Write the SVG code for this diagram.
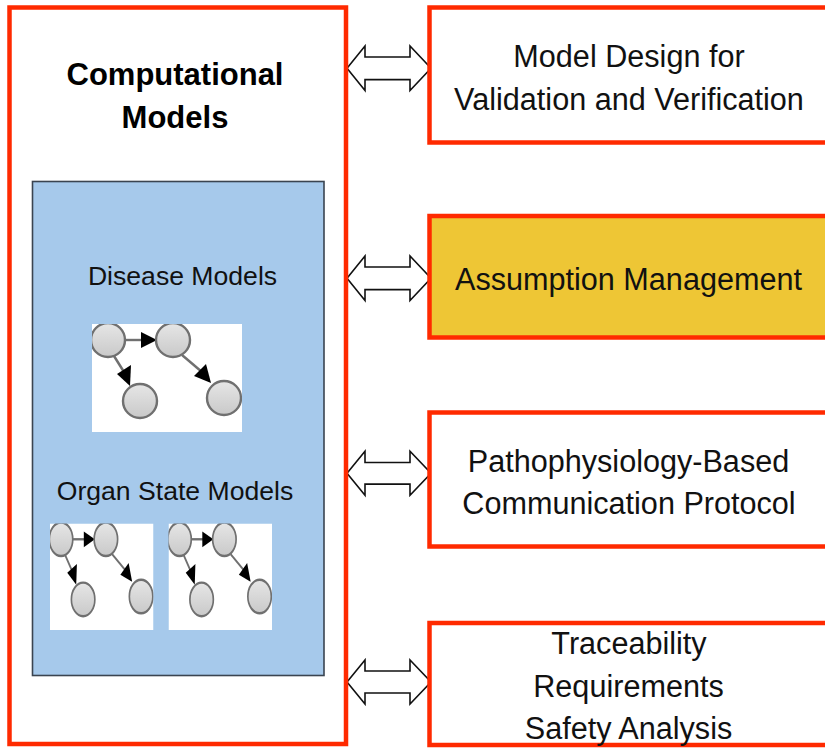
<svg xmlns="http://www.w3.org/2000/svg" xmlns:xlink="http://www.w3.org/1999/xlink" width="825" height="748" viewBox="0 0 825 748">
  <style>
    .frame { fill: #ffffff; stroke: #ff2a00; stroke-width: 4.5; }
    .frame-hl { fill: #eec635; stroke: #ff2a00; stroke-width: 4.5; }
    .panel { fill: #a6c9eb; stroke: #3a4450; stroke-width: 1.6; }
    .label { font-family: "Liberation Sans", Arial, sans-serif; font-size: 30.6px; fill: #111; text-anchor: middle; }
    .title { font-family: "Liberation Sans", Arial, sans-serif; font-size: 31px; font-weight: bold; fill: #000; text-anchor: middle; }
    .sub { font-family: "Liberation Sans", Arial, sans-serif; font-size: 26.6px; fill: #111; text-anchor: middle; }
    .link { fill: #ffffff; stroke: #111; stroke-width: 1.6; stroke-linejoin: miter; }
    .bn-node { fill: url(#nodeFill); stroke: #6f6f6f; stroke-width: 2.4; }
    .bn-edge { stroke: #6f6f6f; stroke-width: 2.4; fill: none; }
  </style>
  <defs>
    <linearGradient id="nodeFill" x1="0" y1="0" x2="0" y2="1">
      <stop offset="0" stop-color="#e6e6e6"/>
      <stop offset="1" stop-color="#c9c9c9"/>
    </linearGradient>
    <filter id="soft" x="-5%" y="-5%" width="110%" height="110%">
      <feGaussianBlur stdDeviation="0.6"/>
    </filter>
    <clipPath id="thumbClip">
      <rect x="0" y="0" width="150" height="108"/>
    </clipPath>
    <!-- small network thumbnail: four nodes, three directed edges -->
    <symbol id="net" viewBox="0 0 150 108" preserveAspectRatio="none">
      <g clip-path="url(#thumbClip)" filter="url(#soft)">
        <rect x="0" y="0" width="150" height="108" fill="#ffffff"/>
        <line class="bn-edge" x1="33" y1="16" x2="52" y2="16"/>
        <polygon points="49,8 65,16 49,24" fill="#000"/>
        <line class="bn-edge" x1="22" y1="32" x2="32" y2="48"/>
        <polygon points="25,50 39,41 38,62" fill="#000"/>
        <line class="bn-edge" x1="90" y1="31" x2="110" y2="48"/>
        <polygon points="102,52 114,40 119,59" fill="#000"/>
        <circle class="bn-node" cx="16" cy="16" r="17"/>
        <circle class="bn-node" cx="81" cy="16" r="17"/>
        <circle class="bn-node" cx="48" cy="77" r="17"/>
        <circle class="bn-node" cx="132" cy="74" r="17"/>
      </g>
    </symbol>
  </defs>

  <!-- bidirectional block arrows between the model box and each concern -->
  <g id="connectors">
    <path class="link" d="M347,68.3 L365,46 L365,57 L410,57 L410,46 L431,68.3 L410,90.6 L410,79.6 L365,79.6 L365,90.6 Z"/>
    <path class="link" d="M347,278.3 L365,256 L365,267 L410,267 L410,256 L431,278.3 L410,300.6 L410,289.6 L365,289.6 L365,300.6 Z"/>
    <path class="link" d="M347,473.3 L365,451.3 L365,462.5 L410,462.5 L410,451.3 L431,473.3 L410,495.3 L410,484.1 L365,484.1 L365,495.3 Z"/>
    <path class="link" d="M347,682 L365,660 L365,671 L410,671 L410,660 L431,682 L410,704 L410,693 L365,693 L365,704 Z"/>
  </g>

  <!-- left: computational models -->
  <g id="computational-models">
    <rect class="frame" x="9.5" y="7.5" width="336.5" height="736.5"/>
    <text class="title" x="175" y="85">Computational</text>
    <text class="title" x="175" y="128">Models</text>
  </g>

  <g id="model-panel">
    <rect class="panel" x="32.5" y="181.5" width="291.5" height="494"/>
  </g>

  <g id="disease-models">
    <text class="sub" x="182.5" y="285">Disease Models</text>
    <use xlink:href="#net" href="#net" x="92" y="324" width="150" height="108"/>
  </g>

  <g id="organ-state-models">
    <text class="sub" x="175" y="500">Organ State Models</text>
    <use xlink:href="#net" href="#net" x="50" y="523.5" width="103.5" height="106.5"/>
    <use xlink:href="#net" href="#net" x="168.5" y="523.5" width="103.5" height="106.5"/>
  </g>

  <!-- right column -->
  <g id="model-design">
    <rect class="frame" x="429.5" y="7.5" width="400" height="135"/>
    <text class="label" x="629" y="66.5">Model Design for</text>
    <text class="label" x="629" y="110">Validation and Verification</text>
  </g>

  <g id="assumption-management">
    <rect class="frame-hl" x="429.5" y="216" width="400" height="121.5"/>
    <text class="label" x="628.5" y="290">Assumption Management</text>
  </g>

  <g id="communication-protocol">
    <rect class="frame" x="429.5" y="412.5" width="400" height="134"/>
    <text class="label" x="628.5" y="471.5">Pathophysiology-Based</text>
    <text class="label" x="629" y="513.5">Communication Protocol</text>
  </g>

  <g id="traceability">
    <rect class="frame" x="429.5" y="623" width="400" height="122"/>
    <text class="label" x="629" y="653.5">Traceability</text>
    <text class="label" x="628.5" y="696.5">Requirements</text>
    <text class="label" x="628.5" y="738.5">Safety Analysis</text>
  </g>
</svg>
